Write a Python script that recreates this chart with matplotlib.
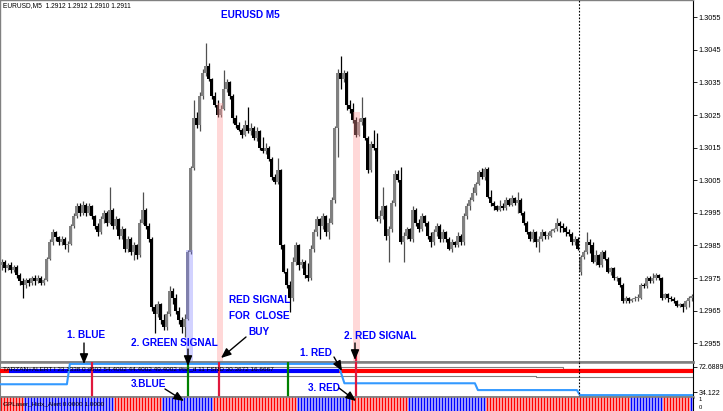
import matplotlib
matplotlib.use("Agg")
import matplotlib.pyplot as plt
from matplotlib.patches import FancyArrowPatch
import numpy as np

plt.rcParams['font.family'] = ['Liberation Sans', 'DejaVu Sans']

# ---------------- candle data (EURUSD M5) ----------------
opens = [1.29790, 1.29800, 1.29780, 1.29790, 1.29775, 1.29785, 1.29760, 1.29740, 1.29730, 1.29745,
         1.29735, 1.29750, 1.29740, 1.29750, 1.29735, 1.29745, 1.29810, 1.29860, 1.29890, 1.29875,
         1.29860, 1.29870, 1.29850, 1.29855, 1.29910, 1.29940, 1.29970, 1.29950, 1.29975, 1.29950,
         1.29970, 1.29940, 1.29910, 1.29890, 1.29930, 1.29950, 1.29920, 1.29960, 1.29910, 1.29930,
         1.29880, 1.29900, 1.29840, 1.29870, 1.29830, 1.29850, 1.29820, 1.29920, 1.29960, 1.29910,
         1.29870, 1.29660, 1.29640, 1.29670, 1.29620, 1.29600, 1.29640, 1.29710, 1.29690, 1.29650,
         1.29620, 1.29600, 1.29625, 1.29830, 1.30088, 1.30240, 1.30220, 1.30310, 1.30380, 1.30400,
         1.30360, 1.30310, 1.30280, 1.30250, 1.30270, 1.30330, 1.30350, 1.30310, 1.30240, 1.30220,
         1.30205, 1.30190, 1.30220, 1.30200, 1.30210, 1.30180, 1.30200, 1.30150, 1.30140, 1.30150,
         1.30115, 1.30060, 1.30045, 1.30080, 1.29850, 1.29770, 1.29730, 1.29690, 1.29800, 1.29850,
         1.29790, 1.29800, 1.29760, 1.29750, 1.29840, 1.29890, 1.29930, 1.29910, 1.29940, 1.29890,
         1.29920, 1.29990, 1.30210, 1.30380, 1.30360, 1.30380, 1.30280, 1.30270, 1.30235, 1.30190,
         1.30230, 1.30240, 1.30180, 1.30080, 1.30160, 1.30150, 1.29930, 1.29940, 1.29970, 1.29880,
         1.29900, 1.29980, 1.30070, 1.30050, 1.29860, 1.29880, 1.29900, 1.29870, 1.29960, 1.29920,
         1.29900, 1.29940, 1.29920, 1.29880, 1.29860, 1.29890, 1.29910, 1.29870, 1.29890, 1.29870,
         1.29840, 1.29860, 1.29850, 1.29880, 1.29860, 1.29940, 1.29970, 1.29990, 1.30010, 1.30040,
         1.30075, 1.30060, 1.30085, 1.30000, 1.29980, 1.29970, 1.29960, 1.29970, 1.29965, 1.29990,
         1.29975, 1.29995, 1.29980, 1.29990, 1.29950, 1.29920, 1.29890, 1.29870, 1.29890, 1.29860,
         1.29870, 1.29890, 1.29880, 1.29880, 1.29895, 1.29900, 1.29920, 1.29910, 1.29905, 1.29890,
         1.29885, 1.29860, 1.29870, 1.29770, 1.29815, 1.29830, 1.29860, 1.29850, 1.29800, 1.29820,
         1.29790, 1.29830, 1.29810, 1.29770, 1.29780, 1.29750, 1.29750, 1.29730, 1.29680, 1.29690,
         1.29680, 1.29685, 1.29690, 1.29690, 1.29730, 1.29725, 1.29750, 1.29740, 1.29750, 1.29760,
         1.29750, 1.29690, 1.29700, 1.29690, 1.29685, 1.29680, 1.29665, 1.29670, 1.29660, 1.29680,
         1.29690]
closes = [1.29800, 1.29780, 1.29790, 1.29775, 1.29785, 1.29760, 1.29740, 1.29730, 1.29745, 1.29735,
          1.29750, 1.29740, 1.29750, 1.29735, 1.29745, 1.29810, 1.29860, 1.29890, 1.29875, 1.29860,
          1.29870, 1.29850, 1.29855, 1.29910, 1.29940, 1.29970, 1.29950, 1.29975, 1.29950, 1.29970,
          1.29940, 1.29910, 1.29890, 1.29930, 1.29950, 1.29920, 1.29960, 1.29910, 1.29930, 1.29880,
          1.29900, 1.29840, 1.29870, 1.29830, 1.29850, 1.29820, 1.29920, 1.29960, 1.29910, 1.29870,
          1.29660, 1.29640, 1.29670, 1.29620, 1.29600, 1.29640, 1.29710, 1.29690, 1.29650, 1.29620,
          1.29600, 1.29625, 1.29830, 1.30088, 1.30240, 1.30220, 1.30310, 1.30380, 1.30400, 1.30360,
          1.30310, 1.30280, 1.30250, 1.30270, 1.30330, 1.30350, 1.30310, 1.30240, 1.30220, 1.30205,
          1.30190, 1.30220, 1.30200, 1.30210, 1.30180, 1.30200, 1.30150, 1.30140, 1.30150, 1.30115,
          1.30060, 1.30045, 1.30080, 1.29850, 1.29770, 1.29730, 1.29690, 1.29800, 1.29850, 1.29790,
          1.29800, 1.29760, 1.29750, 1.29840, 1.29890, 1.29930, 1.29910, 1.29940, 1.29890, 1.29920,
          1.29990, 1.30210, 1.30380, 1.30360, 1.30380, 1.30280, 1.30270, 1.30235, 1.30190, 1.30230,
          1.30240, 1.30180, 1.30080, 1.30160, 1.30150, 1.29930, 1.29940, 1.29970, 1.29880, 1.29900,
          1.29980, 1.30070, 1.30050, 1.29860, 1.29880, 1.29900, 1.29870, 1.29960, 1.29920, 1.29900,
          1.29940, 1.29920, 1.29880, 1.29860, 1.29890, 1.29910, 1.29870, 1.29890, 1.29870, 1.29840,
          1.29860, 1.29850, 1.29880, 1.29860, 1.29940, 1.29970, 1.29990, 1.30010, 1.30040, 1.30075,
          1.30060, 1.30085, 1.30000, 1.29980, 1.29970, 1.29960, 1.29970, 1.29965, 1.29990, 1.29975,
          1.29995, 1.29980, 1.29990, 1.29950, 1.29920, 1.29890, 1.29870, 1.29890, 1.29860, 1.29870,
          1.29890, 1.29880, 1.29880, 1.29895, 1.29900, 1.29920, 1.29910, 1.29905, 1.29890, 1.29885,
          1.29860, 1.29870, 1.29840, 1.29815, 1.29830, 1.29860, 1.29850, 1.29800, 1.29820, 1.29790,
          1.29830, 1.29810, 1.29770, 1.29780, 1.29750, 1.29750, 1.29730, 1.29680, 1.29690, 1.29680,
          1.29685, 1.29690, 1.29690, 1.29730, 1.29725, 1.29750, 1.29740, 1.29750, 1.29760, 1.29750,
          1.29690, 1.29700, 1.29690, 1.29685, 1.29680, 1.29665, 1.29670, 1.29660, 1.29680, 1.29690,
          1.29695]
highs = [1.29810, 1.29805, 1.29795, 1.29800, 1.29790, 1.29790, 1.29765, 1.29750, 1.29750, 1.29750,
         1.29755, 1.29760, 1.29760, 1.29755, 1.29750, 1.29815, 1.29870, 1.29900, 1.29895, 1.29880,
         1.29880, 1.29875, 1.29865, 1.29915, 1.29950, 1.29980, 1.29980, 1.29985, 1.29980, 1.29980,
         1.29975, 1.29945, 1.29920, 1.29940, 1.29960, 1.29955, 1.30030, 1.29965, 1.29940, 1.29935,
         1.29910, 1.29905, 1.29880, 1.29875, 1.29860, 1.29855, 1.29930, 1.30015, 1.29965, 1.29920,
         1.29875, 1.29670, 1.29680, 1.29675, 1.29640, 1.29650, 1.29725, 1.29720, 1.29700, 1.29660,
         1.29630, 1.29640, 1.29835, 1.30095, 1.30296, 1.30260, 1.30320, 1.30390, 1.30470, 1.30410,
         1.30365, 1.30320, 1.30295, 1.30280, 1.30388, 1.30360, 1.30355, 1.30315, 1.30250, 1.30230,
         1.30210, 1.30235, 1.30275, 1.30225, 1.30215, 1.30213, 1.30205, 1.30183, 1.30164, 1.30155,
         1.30120, 1.30070, 1.30118, 1.30085, 1.29855, 1.29780, 1.29740, 1.29815, 1.29860, 1.29855,
         1.29810, 1.29805, 1.29795, 1.29850, 1.29900, 1.29940, 1.29935, 1.29950, 1.29945, 1.29935,
         1.30000, 1.30215, 1.30390, 1.30430, 1.30388, 1.30385, 1.30296, 1.30287, 1.30245, 1.30240,
         1.30305, 1.30245, 1.30185, 1.30170, 1.30204, 1.30195, 1.29960, 1.30030, 1.29975, 1.29910,
         1.29990, 1.30082, 1.30080, 1.30090, 1.29890, 1.29906, 1.29905, 1.29970, 1.29965, 1.29930,
         1.29950, 1.29945, 1.29925, 1.29890, 1.29900, 1.29920, 1.29915, 1.29900, 1.29895, 1.29876,
         1.29870, 1.29865, 1.29890, 1.29885, 1.29950, 1.29980, 1.30000, 1.30030, 1.30045, 1.30080,
         1.30088, 1.30090, 1.30090, 1.30020, 1.29985, 1.29975, 1.29990, 1.29980, 1.30000, 1.29995,
         1.30005, 1.30000, 1.30014, 1.29995, 1.29955, 1.29925, 1.29895, 1.29900, 1.29895, 1.29880,
         1.29900, 1.29895, 1.29890, 1.29900, 1.29905, 1.29934, 1.29925, 1.29920, 1.29910, 1.29900,
         1.29890, 1.29880, 1.29875, 1.29820, 1.29836, 1.29890, 1.29870, 1.29860, 1.29836, 1.29825,
         1.29836, 1.29835, 1.29815, 1.29784, 1.29785, 1.29755, 1.29753, 1.29735, 1.29695, 1.29692,
         1.29690, 1.29695, 1.29700, 1.29734, 1.29735, 1.29755, 1.29755, 1.29765, 1.29765, 1.29762,
         1.29753, 1.29705, 1.29705, 1.29695, 1.29692, 1.29682, 1.29675, 1.29673, 1.29683, 1.29695,
         1.29700]
lows = [1.29775, 1.29770, 1.29775, 1.29765, 1.29770, 1.29750, 1.29730, 1.29690, 1.29720, 1.29725,
        1.29730, 1.29730, 1.29735, 1.29730, 1.29730, 1.29740, 1.29805, 1.29850, 1.29865, 1.29850,
        1.29850, 1.29840, 1.29830, 1.29850, 1.29905, 1.29935, 1.29940, 1.29945, 1.29940, 1.29945,
        1.29930, 1.29900, 1.29880, 1.29885, 1.29920, 1.29910, 1.29915, 1.29900, 1.29900, 1.29870,
        1.29870, 1.29830, 1.29830, 1.29820, 1.29805, 1.29810, 1.29815, 1.29915, 1.29900, 1.29860,
        1.29650, 1.29580, 1.29630, 1.29610, 1.29590, 1.29590, 1.29635, 1.29670, 1.29640, 1.29610,
        1.29580, 1.29570, 1.29620, 1.29825, 1.30080, 1.30210, 1.30200, 1.30300, 1.30370, 1.30355,
        1.30300, 1.30275, 1.30245, 1.30245, 1.30265, 1.30320, 1.30300, 1.30225, 1.30210, 1.30200,
        1.30180, 1.30185, 1.30195, 1.30190, 1.30174, 1.30170, 1.30143, 1.30134, 1.30130, 1.30110,
        1.30050, 1.30040, 1.30040, 1.29840, 1.29765, 1.29720, 1.29645, 1.29680, 1.29790, 1.29775,
        1.29780, 1.29750, 1.29740, 1.29745, 1.29830, 1.29880, 1.29870, 1.29900, 1.29880, 1.29870,
        1.29915, 1.29980, 1.30120, 1.30330, 1.30350, 1.30266, 1.30256, 1.30225, 1.30183, 1.30185,
        1.30220, 1.30174, 1.30072, 1.30075, 1.30143, 1.29925, 1.29920, 1.29930, 1.29867, 1.29800,
        1.29890, 1.29970, 1.30045, 1.29855, 1.29800, 1.29870, 1.29865, 1.29860, 1.29910, 1.29890,
        1.29895, 1.29910, 1.29870, 1.29846, 1.29850, 1.29880, 1.29860, 1.29860, 1.29860, 1.29835,
        1.29830, 1.29845, 1.29845, 1.29850, 1.29850, 1.29930, 1.29960, 1.29985, 1.30005, 1.30035,
        1.30055, 1.30050, 1.29995, 1.29970, 1.29960, 1.29955, 1.29955, 1.29960, 1.29960, 1.29970,
        1.29970, 1.29975, 1.29950, 1.29945, 1.29913, 1.29885, 1.29865, 1.29860, 1.29846, 1.29830,
        1.29865, 1.29870, 1.29870, 1.29875, 1.29890, 1.29895, 1.29890, 1.29890, 1.29880, 1.29880,
        1.29850, 1.29850, 1.29836, 1.29760, 1.29810, 1.29825, 1.29826, 1.29795, 1.29790, 1.29784,
        1.29785, 1.29806, 1.29765, 1.29760, 1.29744, 1.29740, 1.29722, 1.29673, 1.29673, 1.29675,
        1.29677, 1.29680, 1.29680, 1.29685, 1.29720, 1.29720, 1.29734, 1.29735, 1.29745, 1.29745,
        1.29683, 1.29685, 1.29677, 1.29680, 1.29673, 1.29662, 1.29660, 1.29645, 1.29655, 1.29662,
        1.29680]

price_ticks = [1.2955, 1.2965, 1.2975, 1.2985, 1.2995, 1.3005, 1.3015, 1.3025, 1.3035, 1.3045, 1.3055]
price_tick_labels = ['1.2955', '1.2965', '1.2975', '1.2985', '1.2995', '1.3005',
                     '1.3015', '1.3025', '1.3035', '1.3045', '1.3055']

# shaded signal columns on the price chart (candle index range, top price)
shade_left = [61.6, 71.7, 117.2]
shade_right = [63.8, 73.7, 119.5]
shade_top = [1.29836, 1.30287, 1.30260]
shade_color = ['#8080ff', '#ff9999', '#ff9999']
shade_alpha = [0.35, 0.38, 0.38]

# ---------------- indicator window 1 (TARZAN+ALERT) ----------------
ind1_ticks = [72.6889, 34.122]
ind1_tick_labels = ['72.6889', '34.122']
trend_x = [-0.5, 21.8, 22.8, 112.2, 114.3, 157.8, 158.8, 191.8, 192.8, 230.5]
trend_y = [46.0, 46.0, 76.8, 76.8, 47.5, 47.5, 37.2, 37.2, 29.6, 29.6]
state_edges = [-0.5, 2.5, 112.5, 230.5]
state_colors = ['#ff0000', '#0000ff', '#ff0000']
state_level = 66.2
upper_x = [-0.5, 187.0, 187.0, 230.5]
upper_y = [71.6, 71.6, 69.8, 69.8]
lower_x = [-0.5, 178.0, 178.0, 230.5]
lower_y = [59.0, 59.0, 57.0, 57.0]
signal_x = [30.2, 62.2, 72.5, 95.5, 118.2]
signal_colors = ['#e0183c', '#008000', '#e0183c', '#008000', '#e0183c']

# ---------------- indicator window 2 (histogram) ----------------
hist_run_starts = [0, 8, 38, 54, 71, 99, 117, 136, 162, 210, 221, 230]
hist_run_states = [0, 1, 0, 1, 0, 1, 0, 1, 0, 1, 0, 1]   # 1 = blue, 0 = red

# ---------------- figure ----------------
W, H = 723, 411
fig = plt.figure(figsize=(7.23, 4.11), dpi=100)
fig.patch.set_facecolor('white')


def fp(x, y):
    return (x / W, 1 - y / H)


R = 693 / W
ax = fig.add_axes([0, 1 - 361.5 / H, R, 361.5 / H])
ax2 = fig.add_axes([0, 1 - 396.5 / H, R, 35 / H])
ax3 = fig.add_axes([0, 0, R, 14 / H])

n = len(closes)
xi = np.arange(n)
o = np.array(opens)
c = np.array(closes)
h = np.array(highs)
lo = np.array(lows)
up = c >= o

ax.vlines(xi[up], lo[up], h[up], color='#505050', lw=0.9, zorder=2)
ax.vlines(xi[~up], lo[~up], h[~up], color='black', lw=0.9, zorder=2)
bb = np.minimum(o, c)
bh = np.maximum(np.abs(c - o), 0.000025)
ax.bar(xi[up], bh[up], bottom=bb[up], width=0.7, color='#808080', edgecolor='none', zorder=3)
ax.bar(xi[~up], bh[~up], bottom=bb[~up], width=0.7, color='black', edgecolor='none', zorder=3)

ymin, ymax = 1.294940, 1.306031
for l, r, t, col, a in zip(shade_left, shade_right, shade_top, shade_color, shade_alpha):
    ax.bar((l + r) / 2, t - ymin, bottom=ymin, width=r - l, color=col, alpha=a,
           edgecolor='none', zorder=4)

ax.set_xlim(-0.5, 230.5)
ax.set_ylim(ymin, ymax)
ax.set_xticks([])
ax.yaxis.tick_right()
ax.set_yticks(price_ticks)
ax.set_yticklabels(price_tick_labels)
ax.tick_params(axis='y', length=3, width=0.6, pad=1, labelsize=5.3, colors='black')
ax.axvline(192.5, color='black', lw=0.8, dashes=(1.5, 1.5), zorder=5)
ax.axvline(signal_x[4], ymin=0, ymax=0.03, color=signal_colors[4], lw=1.6, zorder=5)

for s in ['left', 'top']:
    ax.spines[s].set_color('#808080')
    ax.spines[s].set_linewidth(1.0)
ax.spines['right'].set_color('black')
ax.spines['right'].set_linewidth(0.8)
ax.spines['bottom'].set_color('#808080')
ax.spines['bottom'].set_linewidth(1.8)

# indicator 1
ax2.plot(upper_x, upper_y, color='#808080', lw=0.8, zorder=2)
ax2.plot(lower_x, lower_y, color='#808080', lw=0.8, zorder=2)
for k, col in enumerate(state_colors):
    ax2.plot([state_edges[k], state_edges[k + 1]], [state_level, state_level], color=col,
             lw=3.0, solid_capstyle='butt', zorder=3)
ax2.plot(trend_x, trend_y, color='#3399ff', lw=1.5, zorder=4)
for sx, sc in zip(signal_x, signal_colors):
    ax2.axvline(sx, color=sc, lw=1.6, zorder=5)
ax2.axvline(192.5, color='black', lw=0.8, dashes=(1.5, 1.5), zorder=5)
ax2.set_xlim(-0.5, 230.5)
ax2.set_ylim(27.5, 80.4)
ax2.set_xticks([])
ax2.yaxis.tick_right()
ax2.set_yticks(ind1_ticks)
ax2.set_yticklabels(ind1_tick_labels)
ax2.tick_params(axis='y', length=3, width=0.6, pad=1, labelsize=5.0, colors='black')
ax2.spines['left'].set_color('#808080')
ax2.spines['right'].set_color('black')
ax2.spines['right'].set_linewidth(0.8)
for s in ['top', 'bottom']:
    ax2.spines[s].set_color('#808080')
    ax2.spines[s].set_linewidth(1.8)

# indicator 2 (histogram)
states = np.zeros(n, dtype=int)
for k, st in enumerate(hist_run_starts):
    end = hist_run_starts[k + 1] if k + 1 < len(hist_run_starts) else n
    states[st:end] = hist_run_states[k]
light_cols = np.where(states == 1, '#9a9aff', '#ff9a9a')
bar_cols = np.where(states == 1, '#0000ff', '#ff0000')
ax3.bar(xi, np.ones(n), bottom=0, width=1.0, color=light_cols, edgecolor='none')
ax3.bar(xi, np.ones(n), bottom=0, width=0.55, color=bar_cols, edgecolor='none')
ax3.set_xlim(-0.5, 230.5)
ax3.set_ylim(0, 1)
ax3.set_xticks([])
ax3.yaxis.tick_right()
ax3.set_yticks([0.85, 0.3])
ax3.set_yticklabels(['1', '0'])
ax3.tick_params(axis='y', length=0, pad=4, labelsize=4.2, colors='black')
ax3.spines['left'].set_color('#808080')
ax3.spines['right'].set_color('black')
ax3.spines['right'].set_linewidth(0.8)
ax3.spines['top'].set_color('#808080')
ax3.spines['top'].set_linewidth(1.2)
ax3.spines['bottom'].set_visible(False)

# ---------------- texts ----------------
fig.text(*fp(3, 6), 'EURUSD,M5  1.2912 1.2912 1.2910 1.2911', fontsize=4.8, color='black',
         ha='left', va='center')
fig.text(*fp(3, 368.5), 'TARZAN+ALERT I 23.1338 0 d002 54.4002 44.4002 49.4002 #tsr_d 11 FSND 30.3672 16.6667',
         fontsize=4.6, color='black', ha='left', va='center', zorder=20)
fig.text(*fp(3, 404), 'GPLaser_Hidx_Alert 0.0000 1.0000', fontsize=4.6, color='black',
         ha='left', va='center', zorder=20)

notes = ['EURUSD M5', 'RED SIGNAL', 'FOR  CLOSE', 'BUY', '1. BLUE', '2. GREEN SIGNAL',
         '1. RED', '2. RED SIGNAL', '3.BLUE', '3. RED']
note_pos = [(250, 15), (259.5, 300), (259.5, 316), (258.5, 332), (86.5, 335), (174, 343),
            (315.5, 353), (380.5, 336), (148, 384), (323.5, 388)]
for t, (cx, cy) in zip(notes, note_pos):
    fig.text(*fp(cx, cy), t, fontsize=7.2, fontweight='bold', color='#0000ff',
             ha='center', va='center', zorder=20)

arrows = [((84, 343), (84, 364)), ((188, 349), (188, 366)), ((246, 337), (221, 358)),
          ((334, 357), (342, 371)), ((355, 343), (355, 360)), ((165, 389), (184, 401)),
          ((339, 388), (356, 401))]
for (x0, y0), (x1, y1) in arrows:
    fig.add_artist(FancyArrowPatch(fp(x0, y0), fp(x1, y1), transform=fig.transFigure,
                                   arrowstyle='-|>,head_length=0.6,head_width=0.25',
                                   mutation_scale=10, color='black', lw=1.0,
                                   shrinkA=0, shrinkB=0, zorder=21))

fig.savefig('out.png', dpi=100, facecolor='white')
